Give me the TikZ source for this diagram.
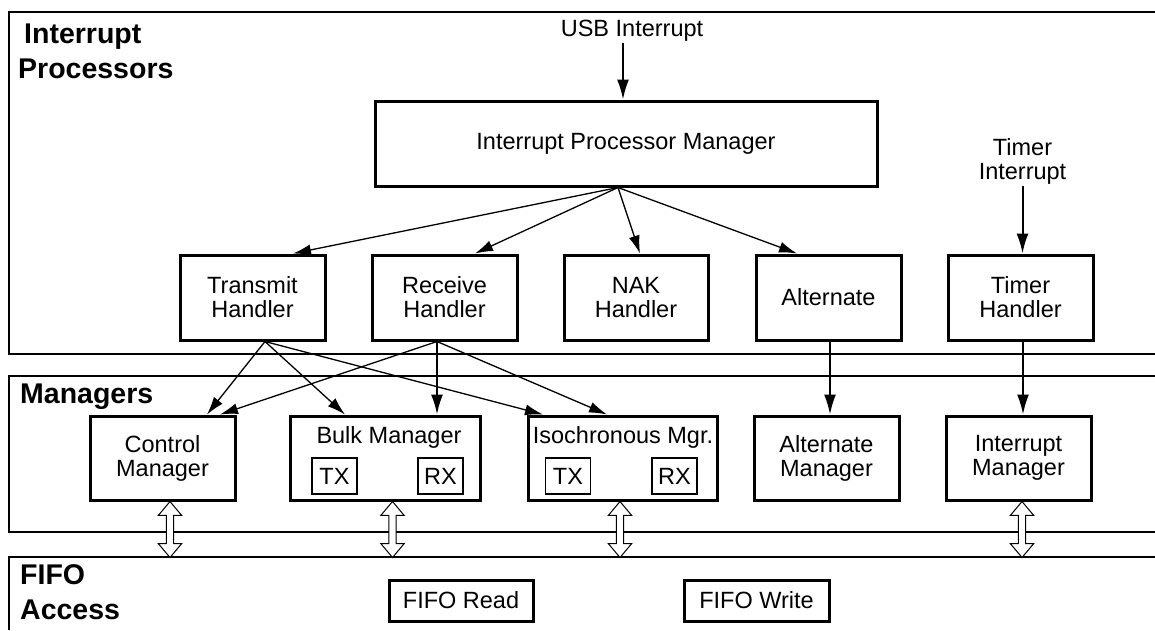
\documentclass[tikz,border=0pt]{standalone}
\usepackage{fontspec}
\setmainfont{Liberation Sans}
\usetikzlibrary{arrows.meta,shapes.arrows,calc}
\newcommand\fsreg{\fontsize{23.5}{24}\selectfont}
\newcommand\fsbold{\fontsize{28.5}{35}\selectfont\bfseries}
\begin{document}
\begin{tikzpicture}[x=1pt,y=-1pt,
  every node/.style={inner sep=0pt},
  box/.style={draw, line width=3pt, minimum width=145pt, minimum height=85pt, align=center, font=\fsreg},
  smallbox/.style={draw, line width=1.6pt, minimum width=45pt, minimum height=36pt, font=\fsreg},
  panel/.style={line width=2.2pt},
  arr/.style={line width=1.3pt, -{Latex[length=18pt,width=11pt]}},
  varr/.style={line width=2pt, -{Latex[length=20pt,width=12pt]}},
  dblarr/.style={double arrow, draw, line width=1pt, fill=white, rotate=90, minimum height=56pt, double arrow head extend=8pt, double arrow tip angle=80, inner sep=3.2pt, minimum width=0pt},
  lbl/.style={font=\fsreg, align=center, inner sep=1pt},
  title/.style={font=\fsbold, align=left, anchor=base west}]
\useasboundingbox (0,0) rectangle (1155,630);

% panels
\draw[panel] (1155,12) -- (9,12) -- (9,354) -- (1155,354);
\draw[panel] (1155,376) -- (9,376) -- (9,532) -- (1155,532);
\draw[panel] (1155,557) -- (9,557) -- (9,630);

% panel titles (base anchor = last line)
\node[title] (lip) at (18,78) {\hspace*{6pt}Interrupt\\Processors};
\node[title] (lmg) at (20,403) {Managers};
\node[title] (lfa) at (20,619) {FIFO\\Access};

% interrupt processors
\node[lbl, anchor=south] (usb) at (632,43) {USB Interrupt};
\node[box, minimum width=502pt] (ipm) at (626,143.5) {Interrupt Processor Manager};
\node[lbl, anchor=south] (ti) at (1022.5,186) {Timer\\Interrupt};

\node[box] (th) at (252.5,297.5) {Transmit\\Handler};
\node[box] (rh) at (444.5,297.5) {Receive\\Handler};
\node[box, minimum width=144pt] (nh) at (636,297.5) {NAK\\Handler};
\node[box] (ah) at (828.5,297.5) {Alternate};
\node[box] (tmh) at (1020.5,297.5) {Timer\\Handler};

% managers
\node[box, minimum height=84pt] (cm) at (162.5,458) {Control\\Manager};
\node[box, minimum width=190pt, minimum height=84pt] (bm) at (385,458) {};
\node[font=\fsreg] (bmt) at (389,437) {Bulk Manager};
\node[smallbox] (btx) at (334.5,476) {TX};
\node[smallbox] (brx) at (440.5,476) {RX};
\node[box, minimum width=189pt, minimum height=84pt] (im) at (622.5,458) {};
\node[font=\fsreg] (imt) at (623,437) {Isochronous Mgr.};
\node[smallbox] (itx) at (568,476) {TX};
\node[smallbox] (irx) at (674.5,476) {RX};
\node[box, minimum height=84pt] (am) at (826.5,458) {Alternate\\Manager};
\node[box, minimum height=84pt] (intm) at (1018.5,458) {Interrupt\\Manager};

% fifo access
\node[box, minimum width=144pt, minimum height=41pt] (fr) at (461,600.5) {FIFO Read};
\node[box, minimum width=145pt, minimum height=41pt] (fw) at (756.5,600.5) {FIFO Write};

% arrows top
\draw[varr] ([xshift=-9pt]usb.south) -- ([xshift=-9pt]usb.south |- ipm.north);
\coordinate (ipms) at ([xshift=-8pt]ipm.south);
\draw[arr] (ipms) -- ([xshift=40.5pt]th.north);
\draw[arr] (ipms) -- ([xshift=30.5pt]rh.north);
\draw[arr] (ipms) -- ([xshift=4pt]nh.north);
\draw[arr] (ipms) -- ([xshift=-31.5pt]ah.north);
\draw[varr] (ti.south) -- (ti.south |- tmh.north);

% arrows to managers
\coordinate (ths) at ([xshift=12.5pt]th.south);
\coordinate (rhs) at ([xshift=-7.5pt]rh.south);
\draw[arr] (ths) -- ([xshift=44.5pt]cm.north);
\draw[arr] (ths) -- ([xshift=-40pt]bm.north);
\draw[arr] (ths) -- ([xshift=-79.5pt]im.north);
\draw[arr] (rhs) -- ([xshift=57.5pt]cm.north);
\draw[varr] (rhs) -- (rhs |- bm.north);
\draw[arr] (rhs) -- ([xshift=-15.5pt]im.north);
\draw[varr] ([xshift=1.5pt]ah.south) -- ([xshift=1.5pt]ah.south |- am.north);
\draw[varr] ([xshift=2.5pt]tmh.south) -- ([xshift=2.5pt]tmh.south |- intm.north);

% double arrows to FIFO access
\node[dblarr] (d1) at ($(cm.south)+(7.5,28)$) {};
\node[dblarr] (d2) at ($(bm.south)+(7.5,28)$) {};
\node[dblarr] (d3) at ($(im.south)+(-2.5,28)$) {};
\node[dblarr] (d4) at ($(intm.south)+(3.5,28)$) {};
\end{tikzpicture}
\end{document}
